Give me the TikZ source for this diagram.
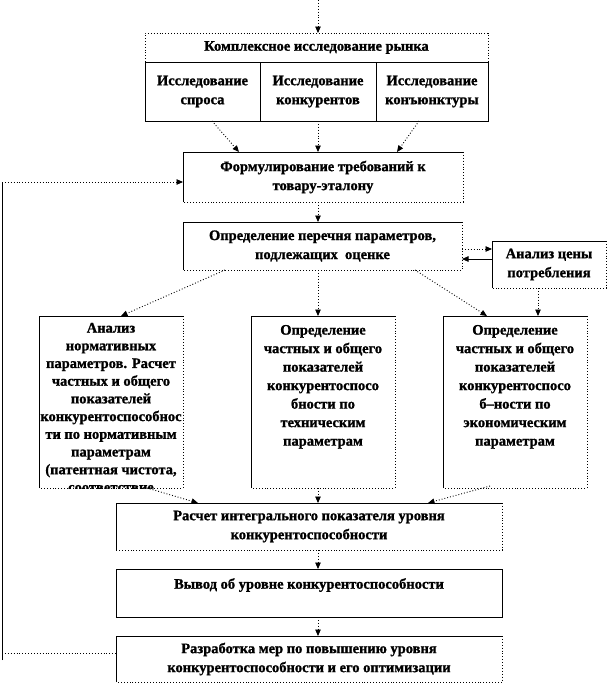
\documentclass[tikz,border=0pt]{standalone}
\usepackage{fontspec}
\setmainfont{Liberation Serif}[BoldFeatures={FakeBold=1.2}]
\usetikzlibrary{arrows.meta,positioning}

\tikzset{
  blk/.style={rectangle, inner sep=0pt, outer sep=0pt, align=center,
    font=\bfseries\fontsize{14.5}{19}\selectfont},
  coltext/.style={blk, font=\bfseries\fontsize{14.5}{18.5}\selectfont},
  flow/.style={dotted, line width=0.9pt, -{Triangle[length=6.5pt,width=5.5pt]}},
  back/.style={-{Triangle[length=6.5pt,width=5.5pt]}},
}
% left and top solid, right and bottom dotted
\newcommand{\frm}[1]{%
  \draw (#1.south west) -- (#1.north west) -- (#1.north east);
  \draw[dotted, line width=0.9pt] (#1.north east) -- (#1.south east) -- (#1.south west);}

\begin{document}
\begin{tikzpicture}[x=1pt,y=-1pt,line width=0.7pt]
  \useasboundingbox (0,0) rectangle (609,686);
  \coordinate (axis) at (318,0);

  % market research block
  \node[blk, minimum width=343, minimum height=29] (ttl) at (316.5,47.5)
    {Комплексное исследование рынка};
  \node[blk, minimum width=115, minimum height=59] (sp) at (202.5,91.5)
    {Исследование\\спроса};
  \node[blk, minimum width=116, minimum height=59] (kon) at (318,91.5)
    {Исследование\\конкурентов};
  \node[blk, minimum width=112, minimum height=59] (knj) at (432,91.5)
    {Исследование\\конъюнктуры};
  \draw[dotted, line width=0.9pt] (ttl.south west) rectangle (ttl.north east);
  \draw (sp.north west) rectangle (sp.south east);
  \draw (kon.north west) rectangle (kon.south east);
  \draw (knj.north west) rectangle (knj.south east);

  \node[blk, minimum width=280, minimum height=50] (form) at (323,177)
    {Формулирование требований к\\товару-эталону};
  \node[blk, minimum width=279, minimum height=48] (per) at (322.5,246)
    {Определение перечня параметров,\\подлежащих\ \ оценке};
  \node[blk, minimum width=114, minimum height=47] (price) at (549,264.5)
    {Анализ цены\\потребления};
  \frm{form} \frm{per} \frm{price}

  % three columns
  \node[blk, minimum width=144, minimum height=172] (lft) at (111,402) {};
  \node[blk, minimum width=144, minimum height=172] (mid) at (323,402) {};
  \node[blk, minimum width=144, minimum height=172] (rgt) at (515,402) {};
  \begin{scope}
    \clip (lft.north west) rectangle (lft.south east);
    \node[coltext, font=\bfseries\fontsize{14.5}{17.7}\selectfont,
      below=7pt of lft.north] (lfttxt)
      {Анализ\\нормативных\\параметров. Расчет\\частных и общего\\показателей\\
       конкурентоспособнос\\ти по нормативным\\параметрам\\(патентная чистота,\\
       соответствие};
  \end{scope}
  \node[coltext, below=9pt of mid.north] (midtxt)
    {Определение\\частных и общего\\показателей\\конкурентоспосо\\бности по\\
     техническим\\параметрам};
  \node[coltext, below=9pt of rgt.north] (rgttxt)
    {Определение\\частных и общего\\показателей\\конкурентоспосо\\б–ности по\\
     экономическим\\параметрам};
  \frm{lft} \frm{mid} \frm{rgt}

  \node[blk, minimum width=386, minimum height=47] (calc) at (309,526.5)
    {Расчет интегрального показателя уровня\\конкурентоспособности};
  \node[blk, minimum width=386, minimum height=48] (concl) at (309,593)
    {Вывод об уровне конкурентоспособности\\\mbox{}};
  \node[blk, minimum width=386, minimum height=46] (meas) at (309,659)
    {Разработка мер по повышению уровня\\конкурентоспособности и его оптимизации};
  \frm{calc}
  \draw (concl.north west) rectangle (concl.south east);
  \frm{meas}

  % connectors
  \draw[flow] (axis) -- (axis |- ttl.north);
  \draw[flow] ([xshift=9.5pt]sp.south) -- ([xshift=-84pt]form.north);
  \draw[flow] (axis |- kon.south) -- (axis |- form.north);
  \draw[flow] ([xshift=-13pt]knj.south) -- ([xshift=74pt]form.north);
  \draw[flow] (axis |- form.south) -- (axis |- per.north);

  \coordinate (pa) at ([yshift=-3pt]per.east);
  \coordinate (pb) at ([yshift=5.5pt]price.west);
  \coordinate (pc) at ([xshift=-11pt]price.south);
  \draw[flow] (pa) -- (pa -| price.west);
  \draw[back] (pb) -- (pb -| per.east);
  \draw[flow] (pc) -- (pc |- rgt.north);

  \draw[flow] ([xshift=42pt]per.south west) -- ([xshift=10pt]lft.north);
  \draw[flow] (axis |- per.south) -- (axis |- mid.north);
  \draw[flow] ([xshift=-47pt]per.south east) -- ([xshift=44pt]rgt.north west);

  \draw[flow] ([xshift=36pt]lft.south) -- ([xshift=82pt]calc.north west);
  \draw[flow] (axis |- mid.south) -- (axis |- calc.north);
  \draw[flow] ([xshift=-25pt,yshift=2pt]rgt.south) -- ([xshift=-74pt]calc.north east);
  \draw[flow] (axis |- calc.south) -- (axis |- concl.north);
  \draw[flow] (axis |- concl.south) -- (axis |- meas.north);

  % feedback loop
  \coordinate (fbtop) at (2,182);
  \coordinate (fbbot) at (2,653);
  \draw ([yshift=-7pt]fbbot) -- (fbtop);
  \draw[flow] (fbtop) -- (fbtop -| form.west);
  \draw[dotted, line width=0.9pt] (fbbot) -- (fbbot -| meas.west);
\end{tikzpicture}
\end{document}
